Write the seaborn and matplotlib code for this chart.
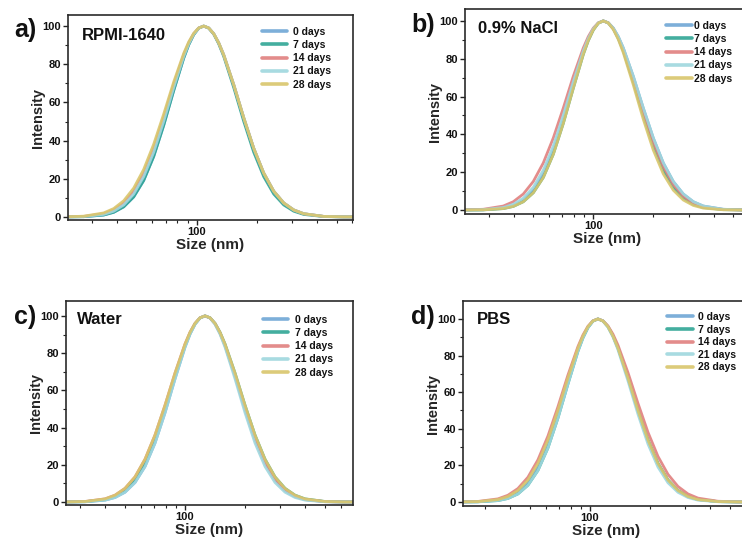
import matplotlib
matplotlib.use("Agg")
import numpy as np
import pandas as pd
import matplotlib.pyplot as plt
import seaborn as sns
from matplotlib.ticker import FixedLocator, FuncFormatter, LogLocator, MultipleLocator, NullFormatter

# ---------------- data ----------------
days = ["0 days", "7 days", "14 days", "21 days", "28 days"]
colors = ["#6fa7d5", "#2fa595", "#e0807f", "#9fd7de", "#d9c66c"]

a_size = [17.18, 21.63, 27.23, 34.28, 38.46, 43.16, 48.42, 54.33, 60.96, 68.40, 76.74, 86.11, 91.21, 96.61, 102.34, 108.40,
          114.82, 121.63, 128.83, 136.47, 153.12, 171.80, 192.77, 216.29, 242.68, 272.29, 305.51, 342.79, 431.55, 543.29, 683.96]
a_0 = [0.00, 0.01, 0.13, 1.01, 2.43, 5.29, 10.5, 19.1, 31.7, 48.0, 66.2, 83.2, 90.2, 95.5, 98.9, 100.0,
       99.0, 96.0, 91.2, 84.9, 69.3, 52.0, 36.0, 23.0, 13.5, 7.34, 3.67, 1.69, 0.28, 0.03, 0.00]
a_7 = [0.00, 0.01, 0.13, 1.01, 2.43, 5.29, 10.5, 19.1, 31.7, 48.0, 66.2, 83.2, 90.2, 95.5, 98.9, 100.0,
       98.9, 95.8, 90.7, 84.1, 67.8, 50.1, 33.9, 21.1, 12.0, 6.28, 3.01, 1.32, 0.20, 0.02, 0.00]
a_14 = [0.00, 0.03, 0.28, 1.69, 3.67, 7.34, 13.5, 23.0, 36.0, 52.0, 69.3, 84.9, 91.2, 96.0, 99.0, 100.0,
        99.0, 96.0, 91.2, 84.9, 69.3, 52.0, 36.0, 23.0, 13.5, 7.34, 3.67, 1.69, 0.28, 0.03, 0.00]
a_21 = [0.00, 0.02, 0.20, 1.32, 3.01, 6.28, 12.0, 21.1, 33.9, 50.1, 67.8, 84.1, 90.7, 95.8, 98.9, 100.0,
        99.0, 96.0, 91.2, 84.9, 69.3, 52.0, 36.0, 23.0, 13.5, 7.34, 3.67, 1.69, 0.28, 0.03, 0.00]
a_28 = [0.01, 0.05, 0.39, 2.11, 4.39, 8.47, 15.1, 24.9, 38.1, 53.9, 70.7, 85.7, 91.7, 96.2, 99.0, 100.0,
        99.0, 96.0, 91.2, 84.9, 69.3, 52.0, 36.0, 23.0, 13.5, 7.34, 3.67, 1.69, 0.28, 0.03, 0.00]

b_size = [17.78, 22.39, 28.18, 35.48, 39.81, 44.67, 50.12, 56.23, 63.10, 70.79, 79.43, 89.13, 94.41, 100.00, 105.93, 112.20,
          118.85, 125.89, 133.35, 141.25, 158.49, 177.83, 199.53, 223.87, 251.19, 281.84, 316.23, 354.81, 446.68, 562.34, 707.95]
b_0 = [0.00, 0.01, 0.13, 1.01, 2.43, 5.29, 10.5, 19.1, 31.7, 48.0, 66.2, 83.2, 90.2, 95.5, 98.9, 100.0,
       99.0, 96.2, 91.7, 85.7, 70.7, 53.9, 38.1, 24.9, 15.1, 8.47, 4.39, 2.11, 0.39, 0.05, 0.01]
b_7 = [0.00, 0.01, 0.09, 0.76, 1.92, 4.39, 9.14, 17.2, 29.5, 45.8, 64.4, 82.3, 89.6, 95.2, 98.8, 100.0,
       98.9, 95.8, 90.7, 84.1, 67.8, 50.1, 33.9, 21.1, 12.0, 6.28, 3.01, 1.32, 0.20, 0.02, 0.00]
b_14 = [0.01, 0.05, 0.39, 2.11, 4.39, 8.47, 15.1, 24.9, 38.1, 53.9, 70.7, 85.7, 91.7, 96.2, 99.0, 100.0,
        99.0, 96.0, 91.2, 84.9, 69.3, 52.0, 36.0, 23.0, 13.5, 7.34, 3.67, 1.69, 0.28, 0.03, 0.00]
b_21 = [0.00, 0.02, 0.20, 1.32, 3.01, 6.28, 12.0, 21.1, 33.9, 50.1, 67.8, 84.1, 90.7, 95.8, 98.9, 100.0,
        99.0, 96.2, 91.7, 85.7, 70.7, 53.9, 38.1, 24.9, 15.1, 8.47, 4.39, 2.11, 0.39, 0.05, 0.01]
b_28 = [0.00, 0.01, 0.09, 0.76, 1.92, 4.39, 9.14, 17.2, 29.5, 45.8, 64.4, 82.3, 89.6, 95.2, 98.8, 100.0,
        98.9, 95.5, 90.2, 83.2, 66.2, 48.0, 31.7, 19.1, 10.5, 5.29, 2.43, 1.01, 0.13, 0.01, 0.00]

c_size = [19.95, 25.12, 31.62, 39.81, 44.67, 50.12, 56.23, 63.10, 70.79, 79.43, 89.13, 100.00, 105.93, 112.20, 118.85, 125.89,
          133.35, 141.25, 149.62, 158.49, 177.83, 199.53, 223.87, 251.19, 281.84, 316.23, 354.81, 398.11, 501.19, 630.96, 794.33]
c_0 = [0.00, 0.01, 0.13, 1.01, 2.43, 5.29, 10.5, 19.1, 31.7, 48.0, 66.2, 83.2, 90.2, 95.5, 98.9, 100.0,
       98.9, 95.8, 90.7, 84.1, 67.8, 50.1, 33.9, 21.1, 12.0, 6.28, 3.01, 1.32, 0.20, 0.02, 0.00]
c_7 = [0.00, 0.02, 0.20, 1.32, 3.01, 6.28, 12.0, 21.1, 33.9, 50.1, 67.8, 84.1, 90.7, 95.8, 98.9, 100.0,
       99.0, 96.0, 91.2, 84.9, 69.3, 52.0, 36.0, 23.0, 13.5, 7.34, 3.67, 1.69, 0.28, 0.03, 0.00]
c_14 = [0.00, 0.03, 0.28, 1.69, 3.67, 7.34, 13.5, 23.0, 36.0, 52.0, 69.3, 84.9, 91.2, 96.0, 99.0, 100.0,
        98.9, 95.8, 90.7, 84.1, 67.8, 50.1, 33.9, 21.1, 12.0, 6.28, 3.01, 1.32, 0.20, 0.02, 0.00]
c_21 = [0.00, 0.01, 0.13, 1.01, 2.43, 5.29, 10.5, 19.1, 31.7, 48.0, 66.2, 83.2, 90.2, 95.5, 98.9, 100.0,
        98.9, 95.5, 90.2, 83.2, 66.2, 48.0, 31.7, 19.1, 10.5, 5.29, 2.43, 1.01, 0.13, 0.01, 0.00]
c_28 = [0.00, 0.03, 0.28, 1.69, 3.67, 7.34, 13.5, 23.0, 36.0, 52.0, 69.3, 84.9, 91.2, 96.0, 99.0, 100.0,
        99.0, 96.0, 91.2, 84.9, 69.3, 52.0, 36.0, 23.0, 13.5, 7.34, 3.67, 1.69, 0.28, 0.03, 0.00]

d_size = [17.38, 21.88, 27.54, 34.67, 38.90, 43.65, 48.98, 54.95, 61.66, 69.18, 77.62, 87.10, 92.26, 97.72, 103.51, 109.65,
          116.14, 123.03, 130.32, 138.04, 154.88, 173.78, 194.98, 218.78, 245.47, 275.42, 309.03, 346.74, 436.52, 549.54, 691.83]
d_0 = [0.00, 0.01, 0.13, 1.01, 2.43, 5.29, 10.5, 19.1, 31.7, 48.0, 66.2, 83.2, 90.2, 95.5, 98.9, 100.0,
       98.9, 95.8, 90.7, 84.1, 67.8, 50.1, 33.9, 21.1, 12.0, 6.28, 3.01, 1.32, 0.20, 0.02, 0.00]
d_7 = [0.00, 0.01, 0.09, 0.76, 1.92, 4.39, 9.14, 17.2, 29.5, 45.8, 64.4, 82.3, 89.6, 95.2, 98.8, 100.0,
       98.9, 95.8, 90.7, 84.1, 67.8, 50.1, 33.9, 21.1, 12.0, 6.28, 3.01, 1.32, 0.20, 0.02, 0.00]
d_14 = [0.00, 0.03, 0.28, 1.69, 3.67, 7.34, 13.5, 23.0, 36.0, 52.0, 69.3, 84.9, 91.2, 96.0, 99.0, 100.0,
        99.0, 96.2, 91.7, 85.7, 70.7, 53.9, 38.1, 24.9, 15.1, 8.47, 4.39, 2.11, 0.39, 0.05, 0.01]
d_21 = [0.00, 0.01, 0.09, 0.76, 1.92, 4.39, 9.14, 17.2, 29.5, 45.8, 64.4, 82.3, 89.6, 95.2, 98.8, 100.0,
        98.9, 95.5, 90.2, 83.2, 66.2, 48.0, 31.7, 19.1, 10.5, 5.29, 2.43, 1.01, 0.13, 0.01, 0.00]
d_28 = [0.00, 0.02, 0.20, 1.32, 3.01, 6.28, 12.0, 21.1, 33.9, 50.1, 67.8, 84.1, 90.7, 95.8, 98.9, 100.0,
        98.9, 95.8, 90.7, 84.1, 67.8, 50.1, 33.9, 21.1, 12.0, 6.28, 3.01, 1.32, 0.20, 0.02, 0.00]

panel_letters = ["a)", "b)", "c)", "d)"]
panel_titles = ["RPMI-1640", "0.9% NaCl", "Water", "PBS"]
x_label = "Size (nm)"
y_label = "Intensity"
x_major = [100]
y_major = [0, 20, 40, 60, 80, 100]

panel_data = [
    (a_size, [a_0, a_7, a_14, a_21, a_28]),
    (b_size, [b_0, b_7, b_14, b_21, b_28]),
    (c_size, [c_0, c_7, c_14, c_21, c_28]),
    (d_size, [d_0, d_7, d_14, d_21, d_28]),
]

# ---------------- layout (pixels in the 742x538 figure) ----------------
W, H = 742, 538
layout = [
    dict(rect=(68, 15, 285, 205), xlim=(22.73, 604.5), ylim=(-1.6, 105.8), letter=(25, 30), title=(82, 35.5),
         legend=(262, 27), hl=2.4, tp=0.6, ls=0.3),
    dict(rect=(465, 9, 285, 205), xlim=(22.83, 607.5), ylim=(-2.1, 106.3), letter=(423, 25), title=(478, 28.5),
         legend=(666, 21), hl=2.5, tp=0.2, ls=0.3),
    dict(rect=(66, 301, 287, 204), xlim=(25.4, 691.8), ylim=(-1.6, 108.0), letter=(25, 317), title=(77, 320),
         legend=(263, 315), hl=2.4, tp=0.65, ls=0.3),
    dict(rect=(463, 301, 287, 205), xlim=(23.2, 631.0), ylim=(-2.2, 109.8), letter=(423, 317), title=(477, 320),
         legend=(667, 312), hl=2.5, tp=0.5, ls=0.25),
]

sns.set_theme(style="ticks")
plt.rcParams["font.family"] = ["Liberation Sans", "DejaVu Sans"]
plt.rcParams["font.weight"] = "bold"

fig = plt.figure(figsize=(W / 100, H / 100), dpi=100)
fig.patch.set_facecolor("white")

def fx(x):
    return x / W

def fy(y):
    return 1 - y / H

palette = dict(zip(days, colors))

for (size, series), lay, letter, title in zip(panel_data, layout, panel_letters, panel_titles):
    l, t, w, h = lay["rect"]
    ax = fig.add_axes([l / W, 1 - (t + h) / H, w / W, h / H])
    rows = []
    for dname, vals in zip(days, series):
        for s, v in zip(size, vals):
            rows.append((dname, s, v))
    df = pd.DataFrame(rows, columns=["day", "size", "intensity"])
    sns.lineplot(data=df, x="size", y="intensity", hue="day", hue_order=days, palette=palette,
                 estimator=None, linewidth=2.0, alpha=0.9, ax=ax)
    ax.set_xscale("log")
    ax.set_xlim(*lay["xlim"])
    ax.set_ylim(*lay["ylim"])
    ax.xaxis.set_major_locator(FixedLocator(x_major))
    ax.xaxis.set_major_formatter(FuncFormatter(lambda v, p: f"{v:.0f}"))
    ax.xaxis.set_minor_locator(LogLocator(base=10, subs=np.arange(2, 10)))
    ax.xaxis.set_minor_formatter(NullFormatter())
    ax.yaxis.set_major_locator(FixedLocator(y_major))
    ax.yaxis.set_minor_locator(MultipleLocator(10))
    ax.tick_params(axis="both", which="major", direction="out", length=3.5, width=1.0, labelsize=8,
                   pad=1.5, colors="#222222", labelcolor="#111111")
    ax.tick_params(axis="both", which="minor", direction="out", length=2.2, width=0.8, colors="#222222")
    ax.tick_params(top=False, right=False, which="both")
    for sp in ax.spines.values():
        sp.set_visible(True)
        sp.set_linewidth(1.2)
        sp.set_color("#2a2a2a")
    ax.set_xlabel(x_label, fontsize=11, fontweight="bold", labelpad=0.5)
    ax.set_ylabel(y_label, fontsize=10.5, fontweight="bold", labelpad=-1.5)
    for lab in ax.get_xticklabels() + ax.get_yticklabels():
        lab.set_fontweight("bold")

    handles, labels = ax.get_legend_handles_labels()
    lx, ly = lay["legend"]
    leg = ax.legend(handles, labels, loc="upper left", bbox_to_anchor=(fx(lx), fy(ly)),
                    bbox_transform=fig.transFigure, frameon=False, borderpad=0, borderaxespad=0,
                    handlelength=lay["hl"], handletextpad=lay["tp"], labelspacing=lay["ls"],
                    prop={"size": 7.5, "weight": "bold"})
    for ln in leg.get_lines():
        ln.set_linewidth(2.6)
        ln.set_alpha(0.9)
    for tx in leg.get_texts():
        tx.set_color("#111111")

    fig.text(fx(lay["letter"][0]), fy(lay["letter"][1]), letter, fontsize=18, fontweight="bold",
             ha="center", va="center", color="#111111")
    fig.text(fx(lay["title"][0]), fy(lay["title"][1]), title, fontsize=12, fontweight="bold",
             ha="left", va="center", color="#111111")

fig.savefig("out.png", dpi=100, facecolor="white")
